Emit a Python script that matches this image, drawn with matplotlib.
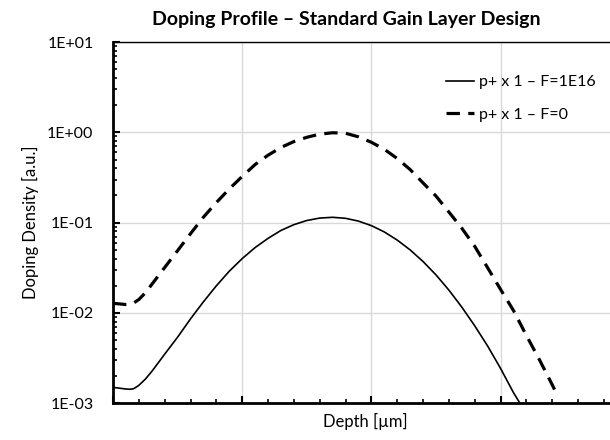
import math
import matplotlib
matplotlib.use("Agg")
import matplotlib.pyplot as plt
from matplotlib.ticker import FixedLocator, LogLocator, NullFormatter, FuncFormatter

plt.rcParams['font.family'] = ['Lato', 'DejaVu Sans']

# depth in arbitrary units (one unit = one vertical grid interval), density in a.u.
depth_f1e16 = [0.00, 0.05, 0.10, 0.13, 0.16, 0.20, 0.25, 0.30, 0.40, 0.50,
               0.60, 0.70, 0.80, 0.90, 1.00, 1.10, 1.20, 1.30, 1.40, 1.50,
               1.60, 1.70, 1.80, 1.90, 2.00, 2.10, 2.20, 2.30, 2.40, 2.50,
               2.60, 2.70, 2.80, 2.90, 3.00, 3.10, 3.15, 3.20]
dens_f1e16 = [1.50e-3, 1.47e-3, 1.44e-3, 1.43e-3, 1.45e-3, 1.58e-3, 1.85e-3, 2.25e-3, 3.5e-3, 5.4e-3,
              8.6e-3, 1.33e-2, 2.0e-2, 2.9e-2, 4.0e-2, 5.3e-2, 6.7e-2, 8.2e-2, 9.5e-2, 0.1056,
              0.1124, 0.1146, 0.1117, 0.104, 0.0927, 0.0789, 0.0641, 0.0499, 0.0371, 0.0264,
              0.0179, 0.0116, 7.2e-3, 4.3e-3, 2.43e-3, 1.31e-3, 1.0e-3, 7.2e-4]

depth_f0 = [0.00, 0.05, 0.10, 0.13, 0.16, 0.20, 0.25, 0.30, 0.40, 0.50,
            0.60, 0.70, 0.80, 0.90, 1.00, 1.10, 1.20, 1.30, 1.40, 1.50,
            1.60, 1.70, 1.80, 1.90, 2.00, 2.10, 2.20, 2.30, 2.40, 2.50,
            2.60, 2.70, 2.80, 2.90, 3.00, 3.10, 3.20, 3.30, 3.40, 3.435]
dens_f0 = [1.28e-2, 1.26e-2, 1.24e-2, 1.245e-2, 1.29e-2, 1.41e-2, 1.67e-2, 2.07e-2, 3.19e-2, 4.9e-2,
           7.55e-2, 0.115, 0.167, 0.236, 0.325, 0.44, 0.558, 0.68, 0.79, 0.881,
           0.955, 0.989, 0.977, 0.891, 0.776, 0.649, 0.513, 0.387, 0.275, 0.197,
           0.131, 0.0867, 0.0546, 0.0316, 0.0182, 0.01064, 5.62e-3, 3.05e-3, 1.60e-3, 1.26e-3]

labels = ['p+ x 1 – F=1E16', 'p+ x 1 – F=0']

fig = plt.figure(figsize=(6.1, 4.4), dpi=100)
# axes run a little past the right edge of the picture, as in the original
ax = fig.add_axes([113 / 610, 36.7 / 440, 516.8 / 610, 361.3 / 440])

ax.plot(depth_f1e16, dens_f1e16, color='black', lw=1.2, label=labels[0])
ax.plot(depth_f0, dens_f0, color='black', lw=2.3, dashes=(4.2, 2.6), label=labels[1])

ax.set_yscale('log')
ax.set_ylim(1e-3, 1e1)
ax.set_xlim(0, 4)

ax.xaxis.set_major_locator(FixedLocator([0, 1, 2, 3, 4]))
ax.xaxis.set_minor_locator(FixedLocator([i * 0.2 for i in range(21)]))
ax.xaxis.set_major_formatter(NullFormatter())
ax.yaxis.set_major_locator(LogLocator(base=10, numticks=10))
ax.yaxis.set_minor_locator(LogLocator(base=10, subs=range(2, 10), numticks=10))
ax.yaxis.set_minor_formatter(NullFormatter())
ax.yaxis.set_major_formatter(FuncFormatter(lambda v, p: '1E%+03d' % round(math.log10(v))))

ax.tick_params(axis='both', which='major', direction='in', length=5, width=1.5,
               labelsize=11.5, pad=14)
ax.tick_params(axis='both', which='minor', direction='in', length=3, width=1.2)

ax.grid(True, which='major', color='#d9d9d9', lw=1)
ax.set_axisbelow(True)

for s in ['left', 'bottom']:
    ax.spines[s].set_linewidth(2)
ax.spines['top'].set_linewidth(1)
ax.spines['right'].set_visible(False)

fig.text(30 / 610, 1 - 222 / 440, 'Doping Density [a.u.]', fontsize=12,
         rotation=90, ha='center', va='center')
fig.text(365 / 610, 1 - 421 / 440, 'Depth [µm]', fontsize=12, ha='center', va='center')
fig.text(346 / 610, 1 - 19 / 440, 'Doping Profile – Standard Gain Layer Design',
         fontsize=14, fontweight='bold', ha='center', va='center')

ax.legend(loc='upper left', bbox_to_anchor=(446 / 610, 1 - 75 / 440),
          bbox_transform=fig.transFigure, frameon=False, fontsize=11.5,
          handlelength=1.75, handletextpad=0.3, labelspacing=1.15, borderpad=0, borderaxespad=0)

fig.savefig('out.png', dpi=100)
